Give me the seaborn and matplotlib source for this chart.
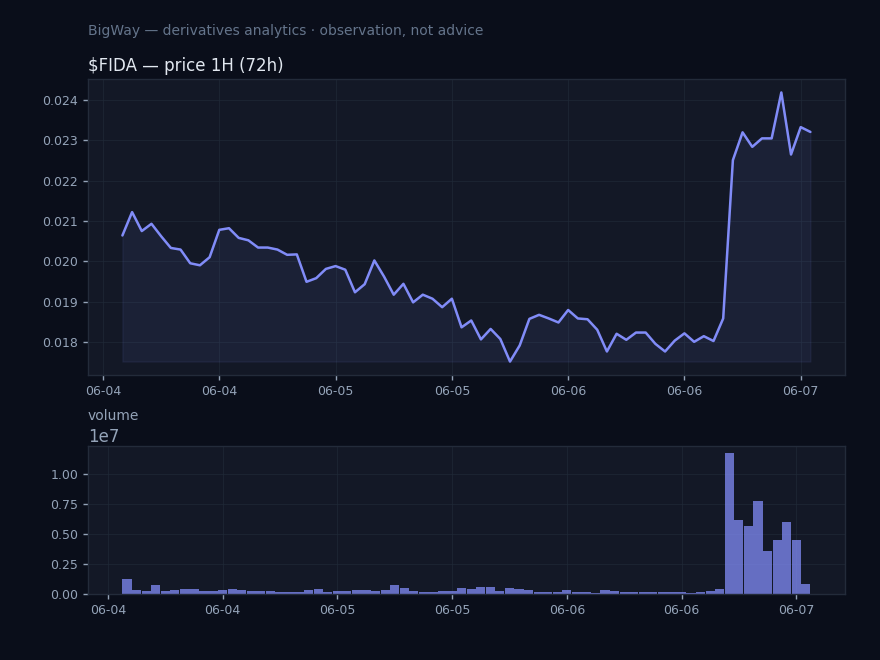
import matplotlib
matplotlib.use("Agg")
import matplotlib.pyplot as plt
import matplotlib.dates as mdates
import numpy as np
import pandas as pd
import seaborn as sns

# hourly closes, 06-04 02:00 -> 06-07 01:00
price = [0.02064, 0.02122, 0.02075, 0.02093, 0.02062, 0.02033, 0.02029, 0.01995,
         0.01990, 0.02010, 0.02078, 0.02082, 0.02058, 0.02052, 0.02034, 0.02034,
         0.02029, 0.02016, 0.02017, 0.01949, 0.01958, 0.01981, 0.01988, 0.01979,
         0.01923, 0.01943, 0.02002, 0.01962, 0.01917, 0.01944, 0.01898, 0.01917,
         0.01907, 0.01886, 0.01907, 0.01836, 0.01853, 0.01806, 0.01832, 0.01807,
         0.01751, 0.01791, 0.01857, 0.01867, 0.01858, 0.01848, 0.01879, 0.01858,
         0.01856, 0.01830, 0.01776, 0.01820, 0.01805, 0.01823, 0.01823, 0.01795,
         0.01776, 0.01803, 0.01821, 0.01800, 0.01814, 0.01802, 0.01858, 0.02251,
         0.02320, 0.02284, 0.02305, 0.02305, 0.02419, 0.02265, 0.02333, 0.02321]

volume = [1.25, 0.33, 0.25, 0.75, 0.25, 0.33, 0.42, 0.42, 0.25, 0.25, 0.33, 0.42,
          0.33, 0.25, 0.25, 0.25, 0.17, 0.17, 0.17, 0.33, 0.42, 0.17, 0.25, 0.25,
          0.33, 0.33, 0.25, 0.33, 0.75, 0.50, 0.25, 0.17, 0.17, 0.25, 0.25, 0.50,
          0.42, 0.58, 0.58, 0.25, 0.50, 0.42, 0.33, 0.17, 0.17, 0.17, 0.33, 0.17,
          0.17, 0.08, 0.33, 0.25, 0.17, 0.17, 0.17, 0.17, 0.17, 0.17, 0.17, 0.08,
          0.17, 0.25, 0.42, 11.75, 6.17, 5.67, 7.75, 3.58, 4.50, 6.00, 4.50, 0.83]
volume = [v * 1e6 for v in volume]

times = pd.date_range("2025-06-04 02:00", periods=len(price), freq="h")
df = pd.DataFrame({"time": times, "price": price, "volume": volume})

BG = "#0a0e1a"
PANEL = "#131826"
ACCENT = "#818cf8"
GRID = "#1f2937"
MUTED = "#94a3b8"

sns.set_theme(context="notebook", style="darkgrid", rc={
    "figure.facecolor": BG,
    "axes.facecolor": PANEL,
    "axes.edgecolor": "#232b3a",
    "axes.linewidth": 1.0,
    "grid.color": GRID,
    "grid.alpha": 0.7,
    "grid.linewidth": 0.8,
    "xtick.bottom": True,
    "ytick.left": True,
    "xtick.color": MUTED,
    "ytick.color": MUTED,
    "text.color": MUTED,
})
plt.rcParams["font.family"] = ["DejaVu Sans"]

fig = plt.figure(figsize=(8.8, 6.6), dpi=100)
ax1 = fig.add_axes([0.1, 0.4318, 0.86, 0.4485])
ax2 = fig.add_axes([0.1, 0.1, 0.86, 0.2242])

sns.lineplot(data=df, x="time", y="price", ax=ax1, color=ACCENT, linewidth=1.8)
ax1.fill_between(df["time"], df["price"], df["price"].min(), color=ACCENT, alpha=0.08)
ax1.set_title("$FIDA — price 1H (72h)", loc="left", fontsize=12, color="#e2e8f0")

ax2.bar(df["time"], df["volume"], width=0.04, color=ACCENT, alpha=0.75, linewidth=0)
ax2.set_title("volume", loc="left", fontsize=10, color=MUTED)

for ax in (ax1, ax2):
    ax.set_xlabel("")
    ax.set_ylabel("")
    ax.xaxis.set_major_locator(mdates.HourLocator(byhour=[0, 12]))
    ax.xaxis.set_major_formatter(mdates.DateFormatter("%m-%d"))
    ax.tick_params(labelsize=9, colors=MUTED, length=3.5, width=1)
    ax.yaxis.get_offset_text().set_color(MUTED)
    ax.yaxis.get_offset_text().set_fontsize(12)
    ax.grid(True)

fig.text(0.1, 0.947, "BigWay — derivatives analytics · observation, not advice",
         fontsize=10, color="#64748b", va="baseline")

fig.savefig("out.png", dpi=100, facecolor=BG)
